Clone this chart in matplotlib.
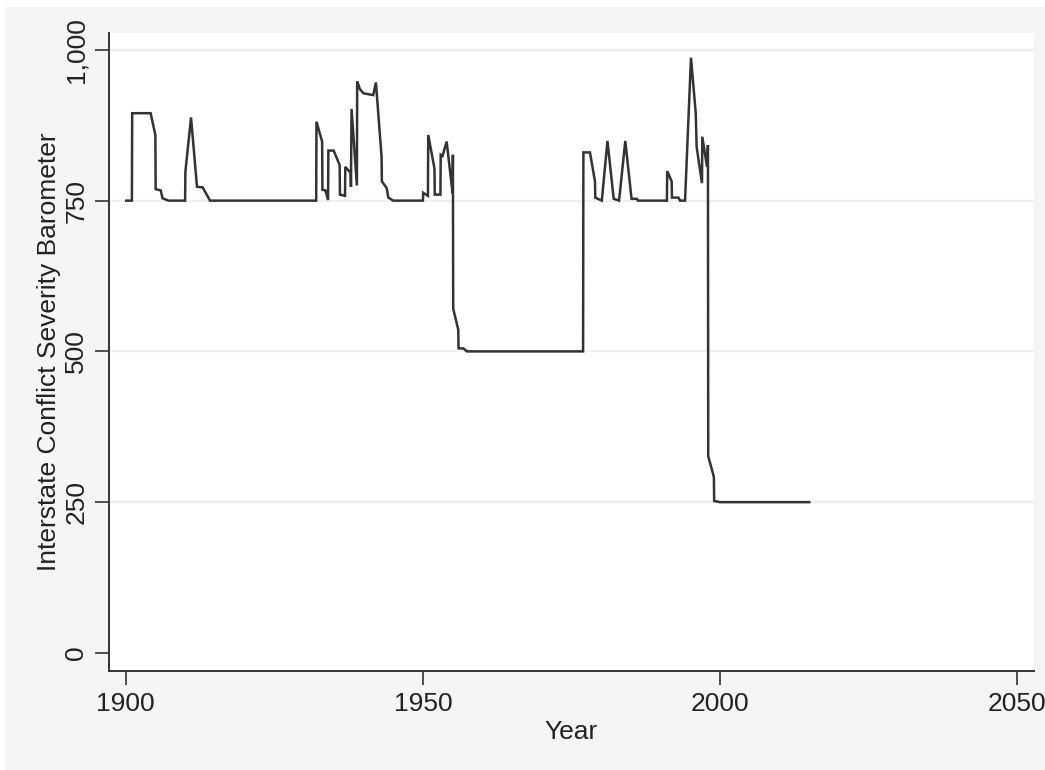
import numpy as np
import matplotlib
matplotlib.use('Agg')
import matplotlib.pyplot as plt
from matplotlib.patches import Rectangle
from matplotlib.ticker import FuncFormatter

plt.rcParams.update({'font.family': ['Liberation Sans', 'DejaVu Sans'], 'font.size': 19})

# yearly severity readings (fractional years where the series steps within a year)
years = [1900.1, 1901.05, 1901.1, 1904.2, 1905.0, 1905.05, 1905.9, 1906.2, 1907.2,
         1910.0, 1910.05, 1911.0, 1912.0, 1912.95, 1914.2,
         1932.05, 1932.1, 1933.05, 1933.1, 1933.6, 1934.05, 1934.1, 1935.0, 1936.0, 1936.05,
         1936.9, 1936.95, 1937.85, 1937.9, 1938.0, 1938.9, 1938.95, 1939.4, 1940.0, 1941.65,
         1942.1, 1943.05, 1943.1, 1943.9, 1944.2, 1945.0,
         1950.0, 1950.05, 1950.85, 1950.9, 1951.95, 1952.0, 1952.95, 1953.0, 1953.3, 1954.0,
         1955.0, 1955.05, 1955.1, 1955.95, 1956.0, 1956.8, 1957.4,
         1976.95, 1977.0, 1978.1, 1978.95, 1979.0, 1980.1, 1981.05, 1982.1, 1983.0,
         1984.05, 1985.1, 1986.0, 1986.2,
         1991.05, 1991.1, 1991.85, 1991.9, 1993.0, 1993.25, 1994.1, 1995.1, 1995.9, 1996.05,
         1996.95, 1997.0, 1997.8, 1997.95, 1998.0, 1998.95, 1999.0, 1999.95, 2015.0]
severity = [750, 750, 895, 895, 859, 769, 767, 754, 750,
            750, 798, 888, 773, 772, 750,
            750, 881, 848, 768, 767, 751, 833, 833, 809, 760,
            758, 806, 796, 773, 902, 775, 948, 935, 928, 925,
            946, 823, 782, 771, 755, 750,
            750, 763, 758, 859, 803, 760, 760, 826, 824, 848,
            762, 826, 571, 536, 505, 505, 500,
            500, 830, 830, 782, 755, 750, 849, 753, 750,
            849, 753, 753, 750,
            750, 799, 782, 755, 755, 750, 750, 987, 895, 839,
            779, 856, 806, 842, 326, 292, 252, 250, 250]

ytick_vals = [0, 250, 500, 750, 1000]
xtick_vals = [1900, 1950, 2000, 2050]

fig = plt.figure(figsize=(10.45, 7.7), dpi=100, facecolor='white')
fig.patches.append(Rectangle((5 / 1045, 0), 1, (770 - 7) / 770, transform=fig.transFigure,
                             facecolor='#f5f5f5', edgecolor='none', zorder=-1))
ax = fig.add_axes([109 / 1045, 99 / 770, (1034 - 109) / 1045, (671 - 33) / 770])
ax.set_facecolor('white')

for v in ytick_vals[1:]:
    ax.axhline(v, color='#f0f0f0', lw=1.6, zorder=0)

ax.plot(years, severity, color='#333333', lw=1.8, solid_joinstyle='miter')

ax.set_xlim(1897.2, 2052.8)
ax.set_ylim(-30, 1028)
ax.set_xticks(xtick_vals)
ax.set_yticks(ytick_vals)
ax.yaxis.set_major_formatter(FuncFormatter(lambda v, p: f'{int(v):,}'))
for lbl in ax.get_yticklabels():
    lbl.set_rotation(90)
    lbl.set_va('center')

ax.tick_params(axis='both', length=10, width=1.2, color='#333333', labelcolor='#222222', pad=5)
for s in ['top', 'right']:
    ax.spines[s].set_visible(False)
for s in ['left', 'bottom']:
    ax.spines[s].set_color('#333333')
    ax.spines[s].set_linewidth(1.4)

ax.set_xlabel('Year', color='#222222', labelpad=3)
ax.set_ylabel('Interstate Conflict Severity Barometer', color='#222222', labelpad=2)

fig.savefig('out.png', dpi=100)
